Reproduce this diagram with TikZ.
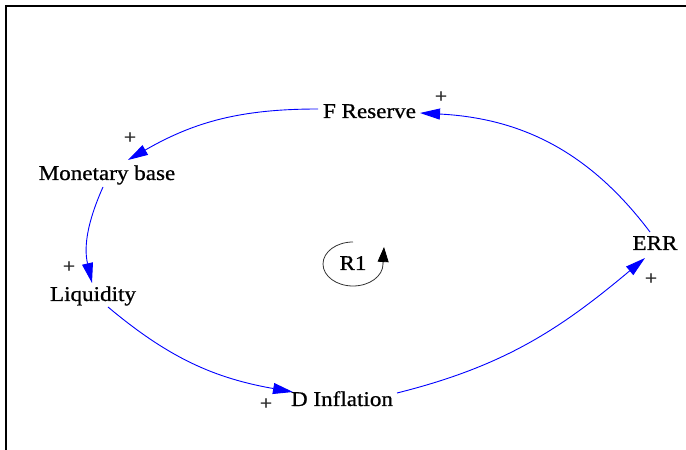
\documentclass[tikz,border=0pt]{standalone}
\usepackage{fontspec}
\setmainfont{Liberation Serif}[FakeStretch=1.1,FakeBold=0.8]
\usetikzlibrary{arrows.meta}
\begin{document}
\begin{tikzpicture}[x=1pt,y=1pt,
  lbl/.style={inner sep=0pt, anchor=base, font=\fontsize{21}{25}\selectfont, text=black},
  pol/.style={inner sep=0pt, font=\fontsize{20}{24}\selectfont, text=black!85},
  link/.style={draw=blue, line width=0.9pt, -{Triangle[length=20pt,width=11pt,fill=blue]}},
  frame/.style={draw=black, line width=2pt}
]
\useasboundingbox (0,0) rectangle (686,450);
\draw[frame] (6,0) -- (6,444) -- (686,444);

\node[lbl] (fr)  at (369.5,332) {F Reserve};
\node[lbl] (mb)  at (107,270)   {Monetary base};
\node[lbl] (lq)  at (93,149)    {Liquidity};
\node[lbl] (di)  at (342,44)    {D Inflation};
\node[lbl] (err) at (655,200)   {ERR};
\node[lbl] (r1)  at (353,180)   {R1};

\node[pol] (p1) at (130,312) {+};
\node[pol] (p2) at (69,183)  {+};
\node[pol] (p3) at (266,46)  {+};
\node[pol] (p4) at (651,171) {+};
\node[pol] (p5) at (441,353) {+};

\draw[link] ([shift={(-51.5,9)}]fr.base) to[out=180,in=30] ([shift={(21,20)}]mb.base);
\draw[link] ([shift={(-4,-7)}]mb.base) to[out=246,in=103] ([shift={(-1,18)}]lq.base);
\draw[link] ([shift={(15,-6)}]lq.base) to[out=-40,in=170] ([shift={(-49,14)}]di.base);
\draw[link] ([shift={(55,13)}]di.base) to[out=14,in=220] ([shift={(-10,-8)}]err.base);
\draw[link] ([shift={(-5,18)}]err.base) to[out=127,in=357] ([shift={(50.5,5)}]fr.base);

\coordinate (lp) at ([shift={(0,6)}]r1.base);
\draw[black!80, line width=0.8pt] ([shift={(0,22)}]lp) arc[start angle=90, end angle=360, x radius=30, y radius=22]
  coordinate (le);
\draw[black, line width=0.8pt, -{Triangle[length=15pt,width=11pt]}] (le) -- ([shift={(1,17)}]le);
\end{tikzpicture}
\end{document}
